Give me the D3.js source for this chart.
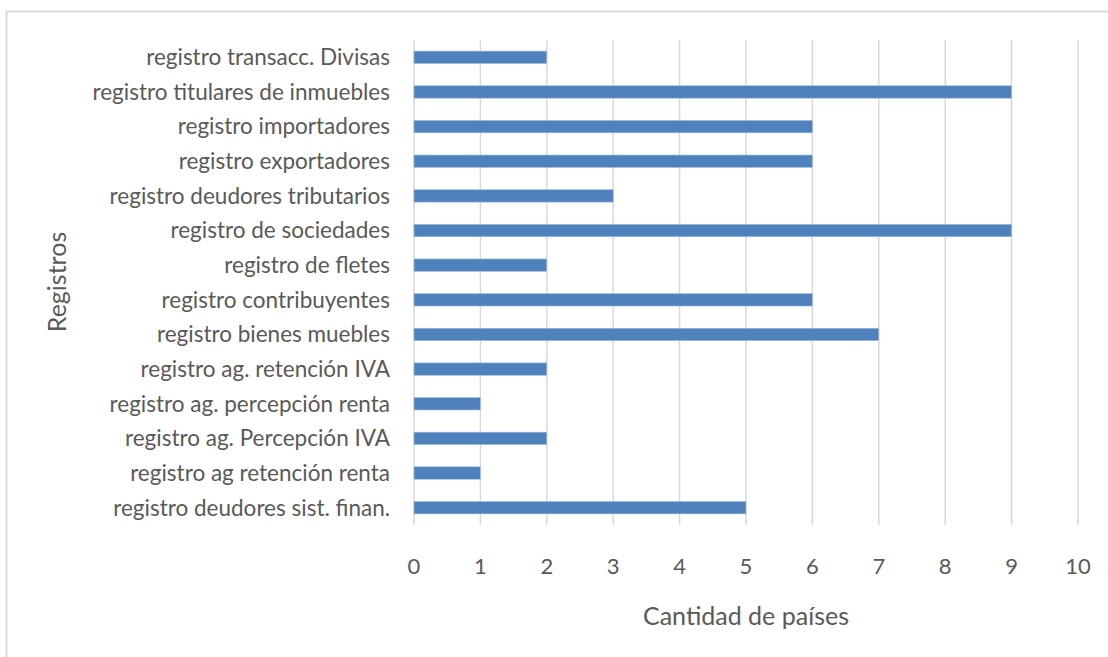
<!DOCTYPE html>
<html>
<head>
<meta charset="utf-8">
<script src="https://cdn.jsdelivr.net/npm/d3@7"></script>
<style>
  body { margin: 0; background: #fff; }
  text { font-family: Lato, "Open Sans", sans-serif; fill: #595959; }
</style>
</head>
<body>
<svg width="1108" height="657"></svg>
<script>
// categories top to bottom
const categories = [
  "registro transacc. Divisas",
  "registro titulares de inmuebles",
  "registro importadores",
  "registro exportadores",
  "registro deudores tributarios",
  "registro de sociedades",
  "registro de fletes",
  "registro contribuyentes",
  "registro bienes muebles",
  "registro ag. retención IVA",
  "registro ag. percepción renta",
  "registro ag. Percepción IVA",
  "registro ag retención renta",
  "registro deudores sist. finan."
];
const values = [2, 9, 6, 6, 3, 9, 2, 6, 7, 2, 1, 2, 1, 5];
const xTicks = [0, 1, 2, 3, 4, 5, 6, 7, 8, 9, 10];

const svg = d3.select("svg");

// chart frame
svg.append("rect")
  .attr("x", 6.5).attr("y", 11.5)
  .attr("width", 1110).attr("height", 660)
  .attr("fill", "none")
  .attr("stroke", "#d9d9d9")
  .attr("stroke-width", 2);

const plotLeft = 414, plotRight = 1078, plotTop = 40, plotBottom = 525;

const x = d3.scaleLinear().domain([0, 10]).range([plotLeft, plotRight]);
const y = d3.scaleBand().domain(categories).range([plotTop, plotBottom]).paddingInner(0.64).paddingOuter(0.32);

// gridlines
svg.append("g")
  .selectAll("line")
  .data(xTicks)
  .enter()
  .append("line")
  .attr("x1", d => x(d)).attr("x2", d => x(d))
  .attr("y1", plotTop).attr("y2", plotBottom)
  .attr("stroke", "#d9d9d9")
  .attr("stroke-width", 1.5);

// bars
svg.append("g")
  .selectAll("rect")
  .data(values)
  .enter()
  .append("rect")
  .attr("x", x(0))
  .attr("y", (d, i) => y(categories[i]))
  .attr("width", d => x(d) - x(0))
  .attr("height", y.bandwidth())
  .attr("fill", "#4f81bd")
  .attr("stroke", "#a9c1e0")
  .attr("stroke-width", 0.6);

// category labels
svg.append("g")
  .selectAll("text")
  .data(categories)
  .enter()
  .append("text")
  .attr("x", 390)
  .attr("y", d => y(d) + y.bandwidth() / 2)
  .attr("dy", "0.35em")
  .attr("text-anchor", "end")
  .style("font-size", "22.5px")
  .text(d => d);

// x tick labels
svg.append("g")
  .selectAll("text")
  .data(xTicks)
  .enter()
  .append("text")
  .attr("x", d => x(d))
  .attr("y", 574)
  .attr("text-anchor", "middle")
  .style("font-size", "22px")
  .text(d => d);

// axis titles
svg.append("text")
  .attr("x", 746)
  .attr("y", 625)
  .attr("text-anchor", "middle")
  .style("font-size", "25px")
  .text("Cantidad de países");

svg.append("text")
  .attr("transform", "translate(66,282) rotate(-90)")
  .attr("text-anchor", "middle")
  .style("font-size", "25px")
  .text("Registros");
</script>
</body>
</html>
